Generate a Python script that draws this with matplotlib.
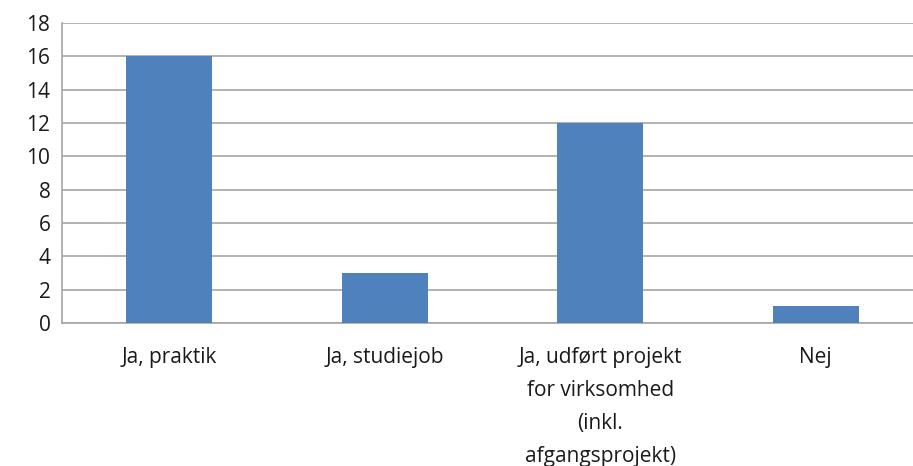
import matplotlib

matplotlib.use("Agg")
import matplotlib.pyplot as plt

categories = [
    "Ja, praktik",
    "Ja, studiejob",
    "Ja, udført projekt\nfor virksomhed\n(inkl.\nafgangsprojekt)",
    "Nej",
]
counts = [16, 3, 12, 1]
y_ticks = list(range(0, 19, 2))

plt.rcParams["font.family"] = ["Open Sans", "DejaVu Sans"]

fig = plt.figure(figsize=(9.13, 4.66), dpi=100)
# the plot area runs a bit past the right edge of the image, like the source
ax = fig.add_axes([61.5 / 913, 143 / 466, 862 / 913, 300 / 466])

x = list(range(len(categories)))
ax.bar(x, counts, width=0.40, color="#4f81bd", zorder=3)

ax.set_xlim(-0.5, len(categories) - 0.5)
ax.set_ylim(0, 18)
ax.set_yticks(y_ticks)
ax.set_xticks(x)
ax.set_xticklabels(categories, linespacing=1.75, va="top")
ax.grid(axis="y", color="#a6a6a6", linewidth=1.2, zorder=0)

for side in ("top", "right"):
    ax.spines[side].set_visible(False)
for side in ("left", "bottom"):
    ax.spines[side].set_color("#a6a6a6")
    ax.spines[side].set_linewidth(1.2)

ax.tick_params(axis="y", length=0, pad=8, labelsize=15, colors="#1a1a1a")
ax.tick_params(axis="x", length=0, pad=17, labelsize=15, colors="#1a1a1a")

fig.savefig("out.png", dpi=100)
